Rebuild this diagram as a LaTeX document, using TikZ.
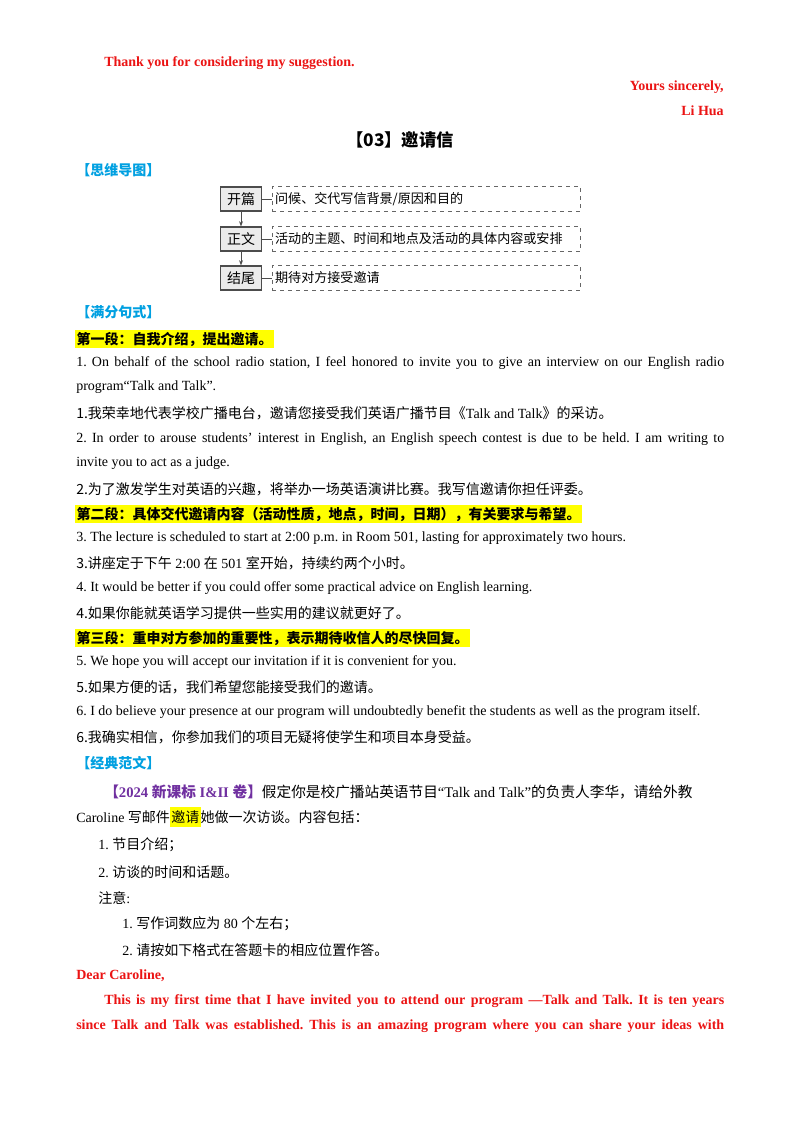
\documentclass[tikz,border=0pt]{standalone}
\usepackage{fontspec}
\setmainfont{Liberation Serif}
\newfontfamily\cjk{Noto Sans CJK SC}
\usetikzlibrary{arrows.meta}
\definecolor{rd}{RGB}{235,20,20}
\definecolor{hb}{RGB}{0,160,225}
\definecolor{pu}{RGB}{112,48,160}
\definecolor{hy}{RGB}{255,255,0}
\frenchspacing
\begin{document}
\begin{tikzpicture}[x=0.75pt,y=-0.75pt,
  txt/.style={anchor=west,inner sep=0pt,font=\fontsize{10.5}{12}\selectfont},
  cn/.style={txt,font=\fontsize{10.5}{12}\selectfont\cjk},
  head/.style={anchor=west,inner sep=0pt,text=hb,font=\fontsize{10.5}{12}\selectfont\cjk\bfseries},
  hl/.style={anchor=west,inner sep=1pt,fill=hy,font=\fontsize{10.5}{12}\selectfont\cjk\bfseries},
  rb/.style={anchor=west,inner sep=0pt,text=rd,font=\fontsize{10.5}{12}\selectfont\bfseries},
  mbox/.style={draw=black!70,fill=black!8,line width=0.8pt,minimum width=31pt,minimum height=18pt,inner sep=0pt,font=\fontsize{10.5}{12}\selectfont\cjk},
  dbox/.style={draw=black!60,dashed,line width=0.7pt,minimum width=231pt,minimum height=19pt,inner sep=0pt,anchor=west,text width=229pt,font=\fontsize{9.8}{12}\selectfont\cjk},
  link/.style={draw=black!70,line width=0.7pt}]
\useasboundingbox (0,0) rectangle (800,1134);
\fill[white] (0,0) rectangle (800,1134);
\node[rb] (t1) at (104,63) {Thank you for considering my suggestion.};
\node[rb,anchor=east] (t2) at (724,87) {Yours sincerely,};
\node[rb,anchor=east] (t3) at (724,111) {Li Hua};
\node[inner sep=0pt,font=\fontsize{13}{15}\selectfont\cjk\bfseries] (title) at (400,140) {【03】邀请信};
\node[head] (h1) at (76,170) {【思维导图】};
% mind map
\node[mbox] (b1) at (241,199) {开篇};
\node[mbox] (b2) at (241,239) {正文};
\node[mbox] (b3) at (241,278) {结尾};
\node[dbox] (d1) at (272,199) {\hspace{1pt}问候、交代写信背景/原因和目的};
\node[dbox] (d2) at (272,239) {\hspace{1pt}活动的主题、时间和地点及活动的具体内容或安排};
\node[dbox] (d3) at (272,278) {\hspace{1pt}期待对方接受邀请};
\draw[link] (b1) -- (d1); \draw[link] (b2) -- (d2); \draw[link] (b3) -- (d3);
\draw[link,-{Stealth[length=4pt]}] (b1) -- (b2);
\draw[link,-{Stealth[length=4pt]}] (b2) -- (b3);
\node[head] (h2) at (76,312) {【满分句式】};
\node[hl] (p1) at (75,339) {第一段：自我介绍，提出邀请。};
\node[txt] (l1) at (76,363) {\makebox[486pt][s]{1. On behalf of the school radio station, I feel honored to invite you to give an interview on our English radio}};
\node[txt] (l2) at (76,387) {program“Talk and Talk”.};
\node[cn] (l3) at (76,413) {1.我荣幸地代表学校广播电台，邀请您接受我们英语广播节目《{\rmfamily Talk and Talk}》的采访。};
\node[txt] (l4) at (76,439) {\makebox[486pt][s]{2. In order to arouse students’ interest in English, an English speech contest is due to be held. I am writing to}};
\node[txt] (l5) at (76,463) {invite you to act as a judge.};
\node[cn] (l6) at (76,489) {2.为了激发学生对英语的兴趣，将举办一场英语演讲比赛。我写信邀请你担任评委。};
\node[hl] (p2) at (75,514) {第二段：具体交代邀请内容（活动性质，地点，时间，日期），有关要求与希望。};
\node[txt] (l7) at (76,538) {3. The lecture is scheduled to start at 2:00 p.m. in Room 501, lasting for approximately two hours.};
\node[cn] (l8) at (76,563) {3.讲座定于下午{\rmfamily\ 2:00 }在{\rmfamily\ 501 }室开始，持续约两个小时。};
\node[txt] (l9) at (76,588) {4. It would be better if you could offer some practical advice on English learning.};
\node[cn] (l10) at (76,613) {4.如果你能就英语学习提供一些实用的建议就更好了。};
\node[hl] (p3) at (75,638) {第三段：重申对方参加的重要性，表示期待收信人的尽快回复。};
\node[txt] (l11) at (76,662) {5. We hope you will accept our invitation if it is convenient for you.};
\node[cn] (l12) at (76,687) {5.如果方便的话，我们希望您能接受我们的邀请。};
\node[txt] (l13) at (76,712) {6. I do believe your presence at our program will undoubtedly benefit the students as well as the program itself.};
\node[cn] (l14) at (76,737) {6.我确实相信，你参加我们的项目无疑将使学生和项目本身受益。};
\node[head] (h3) at (76,763) {【经典范文】};
\node[cn,font=\fontsize{11}{12}\selectfont\cjk] (q1) at (104,792) {{\color{pu}\bfseries【{\rmfamily 2024 }新课标{\rmfamily\ I\&II }卷】}假定你是校广播站英语节目{\rmfamily“Talk and Talk”}的负责人李华，请给外教};
\node[cn] (q2) at (76,817) {{\rmfamily Caroline }写邮件\colorbox{hy}{\kern-2pt 邀请\kern-2pt}她做一次访谈。内容包括：};
\node[cn] (q3) at (98,845) {{\rmfamily 1. }节目介绍；};
\node[cn] (q4) at (98,872) {{\rmfamily 2. }访谈的时间和话题。};
\node[cn] (q5) at (98,898) {注意{\rmfamily :}};
\node[cn] (q6) at (122,924) {{\rmfamily 1. }写作词数应为{\rmfamily\ 80 }个左右；};
\node[cn] (q7) at (122,950) {{\rmfamily 2. }请按如下格式在答题卡的相应位置作答。};
\node[rb] (e1) at (76,976) {Dear Caroline,};
\node[rb] (e2) at (104,1001) {\makebox[465pt][s]{This is my first time that I have invited you to attend our program —Talk and Talk. It is ten years}};
\node[rb] (e3) at (76,1026) {\makebox[486pt][s]{since Talk and Talk was established. This is an amazing program where you can share your ideas with}};
\end{tikzpicture}
\end{document}
